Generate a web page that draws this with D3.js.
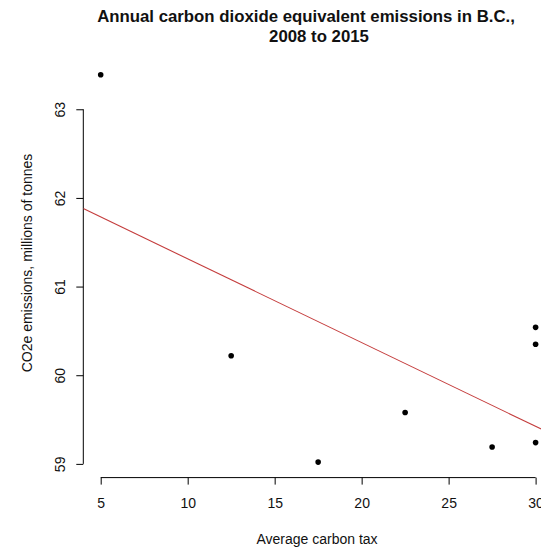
<!DOCTYPE html>
<html>
<head>
<meta charset="utf-8">
<script src="https://cdn.jsdelivr.net/npm/d3@7"></script>
<style>
  html, body { margin: 0; padding: 0; background: #fff; }
  svg { display: block; font-family: "Liberation Sans", Arial, sans-serif; }
</style>
</head>
<body>
<svg id="chart" width="541" height="550"></svg>
<script>
// ---- data ----
const years = [2008, 2009, 2010, 2011, 2012, 2013, 2014, 2015];
const carbonTax = [5, 12.5, 17.5, 22.5, 27.5, 30, 30, 30];
const emissions = [63.39, 60.22, 59.02, 59.58, 59.19, 60.54, 60.35, 59.24];
const xTicks = [5, 10, 15, 20, 25, 30];
const yTicks = [59, 60, 61, 62, 63];
const titleLines = ["Annual carbon dioxide equivalent emissions in B.C.,", "2008 to 2015"];
const xLabel = "Average carbon tax";
const yLabel = "CO2e emissions, millions of tonnes";

const svg = d3.select("#chart");
const pts = carbonTax.map((t, i) => ({ x: t, y: emissions[i], year: years[i] }));

// R-style 4% padded ranges
function pad(ext) { const r = ext[1] - ext[0]; return [ext[0] - 0.04 * r, ext[1] + 0.04 * r]; }
const x = d3.scaleLinear().domain(pad(d3.extent(carbonTax))).range([83.3, 553]);
const y = d3.scaleLinear().domain(pad(d3.extent(emissions))).range([477.6, 59.2]);

const font = 14;

// x axis
const gx = svg.append("g").attr("transform", `translate(0,${y.range()[0]})`)
  .call(d3.axisBottom(x).tickValues(xTicks).tickSize(7).tickFormat(d3.format("d")));
gx.select(".domain").attr("d", `M${x(xTicks[0])},0H${x(xTicks[xTicks.length - 1])}`).attr("stroke", "#000");
gx.selectAll(".tick line").attr("stroke", "#000");
gx.selectAll(".tick text").attr("y", 30.5).attr("dy", null)
  .attr("font-size", font).attr("fill", "#111").attr("font-family", "Liberation Sans, Arial, sans-serif");

// y axis
const gy = svg.append("g").attr("transform", `translate(${x.range()[0]},0)`)
  .call(d3.axisLeft(y).tickValues(yTicks).tickSize(7).tickFormat(d3.format("d")));
gy.select(".domain").attr("d", `M0,${y(yTicks[0])}V${y(yTicks[yTicks.length - 1])}`).attr("stroke", "#000");
gy.selectAll(".tick line").attr("stroke", "#000");
gy.selectAll(".tick text")
  .attr("x", null).attr("dy", null)
  .attr("text-anchor", "middle")
  .attr("transform", "translate(-18.3,0) rotate(-90)")
  .attr("font-size", font).attr("fill", "#111").attr("font-family", "Liberation Sans, Arial, sans-serif");

// least-squares regression line (abline of lm), clipped to plot region
const mx = d3.mean(carbonTax), my = d3.mean(emissions);
const sxy = d3.sum(pts, p => (p.x - mx) * (p.y - my));
const sxx = d3.sum(pts, p => (p.x - mx) ** 2);
const slope = sxy / sxx, intercept = my - slope * mx;
svg.append("clipPath").attr("id", "plotclip").append("rect")
  .attr("x", x.range()[0]).attr("y", y.range()[1])
  .attr("width", x.range()[1] - x.range()[0]).attr("height", y.range()[0] - y.range()[1]);
const xd = x.domain();
svg.append("line")
  .attr("clip-path", "url(#plotclip)")
  .attr("x1", x(xd[0])).attr("y1", y(intercept + slope * xd[0]))
  .attr("x2", x(xd[1])).attr("y2", y(intercept + slope * xd[1]))
  .attr("stroke", "#c43c3c").attr("stroke-width", 1.1);

// points
svg.append("g").selectAll("circle").data(pts).join("circle")
  .attr("cx", d => x(d.x)).attr("cy", d => y(d.y)).attr("r", 2.8).attr("fill", "#000");

// titles
svg.append("text").attr("x", 306).attr("y", 22).attr("text-anchor", "middle")
  .attr("font-size", 16.8).attr("font-weight", "bold").attr("fill", "#111").text(titleLines[0]);
svg.append("text").attr("x", 319).attr("y", 42).attr("text-anchor", "middle")
  .attr("font-size", 16.8).attr("font-weight", "bold").attr("fill", "#111").text(titleLines[1]);

svg.append("text").attr("x", 317).attr("y", 544).attr("text-anchor", "middle")
  .attr("font-size", font).attr("fill", "#111").text(xLabel);
svg.append("text").attr("transform", "translate(32,263) rotate(-90)").attr("text-anchor", "middle")
  .attr("font-size", font).attr("fill", "#111").text(yLabel);
</script>
</body>
</html>
